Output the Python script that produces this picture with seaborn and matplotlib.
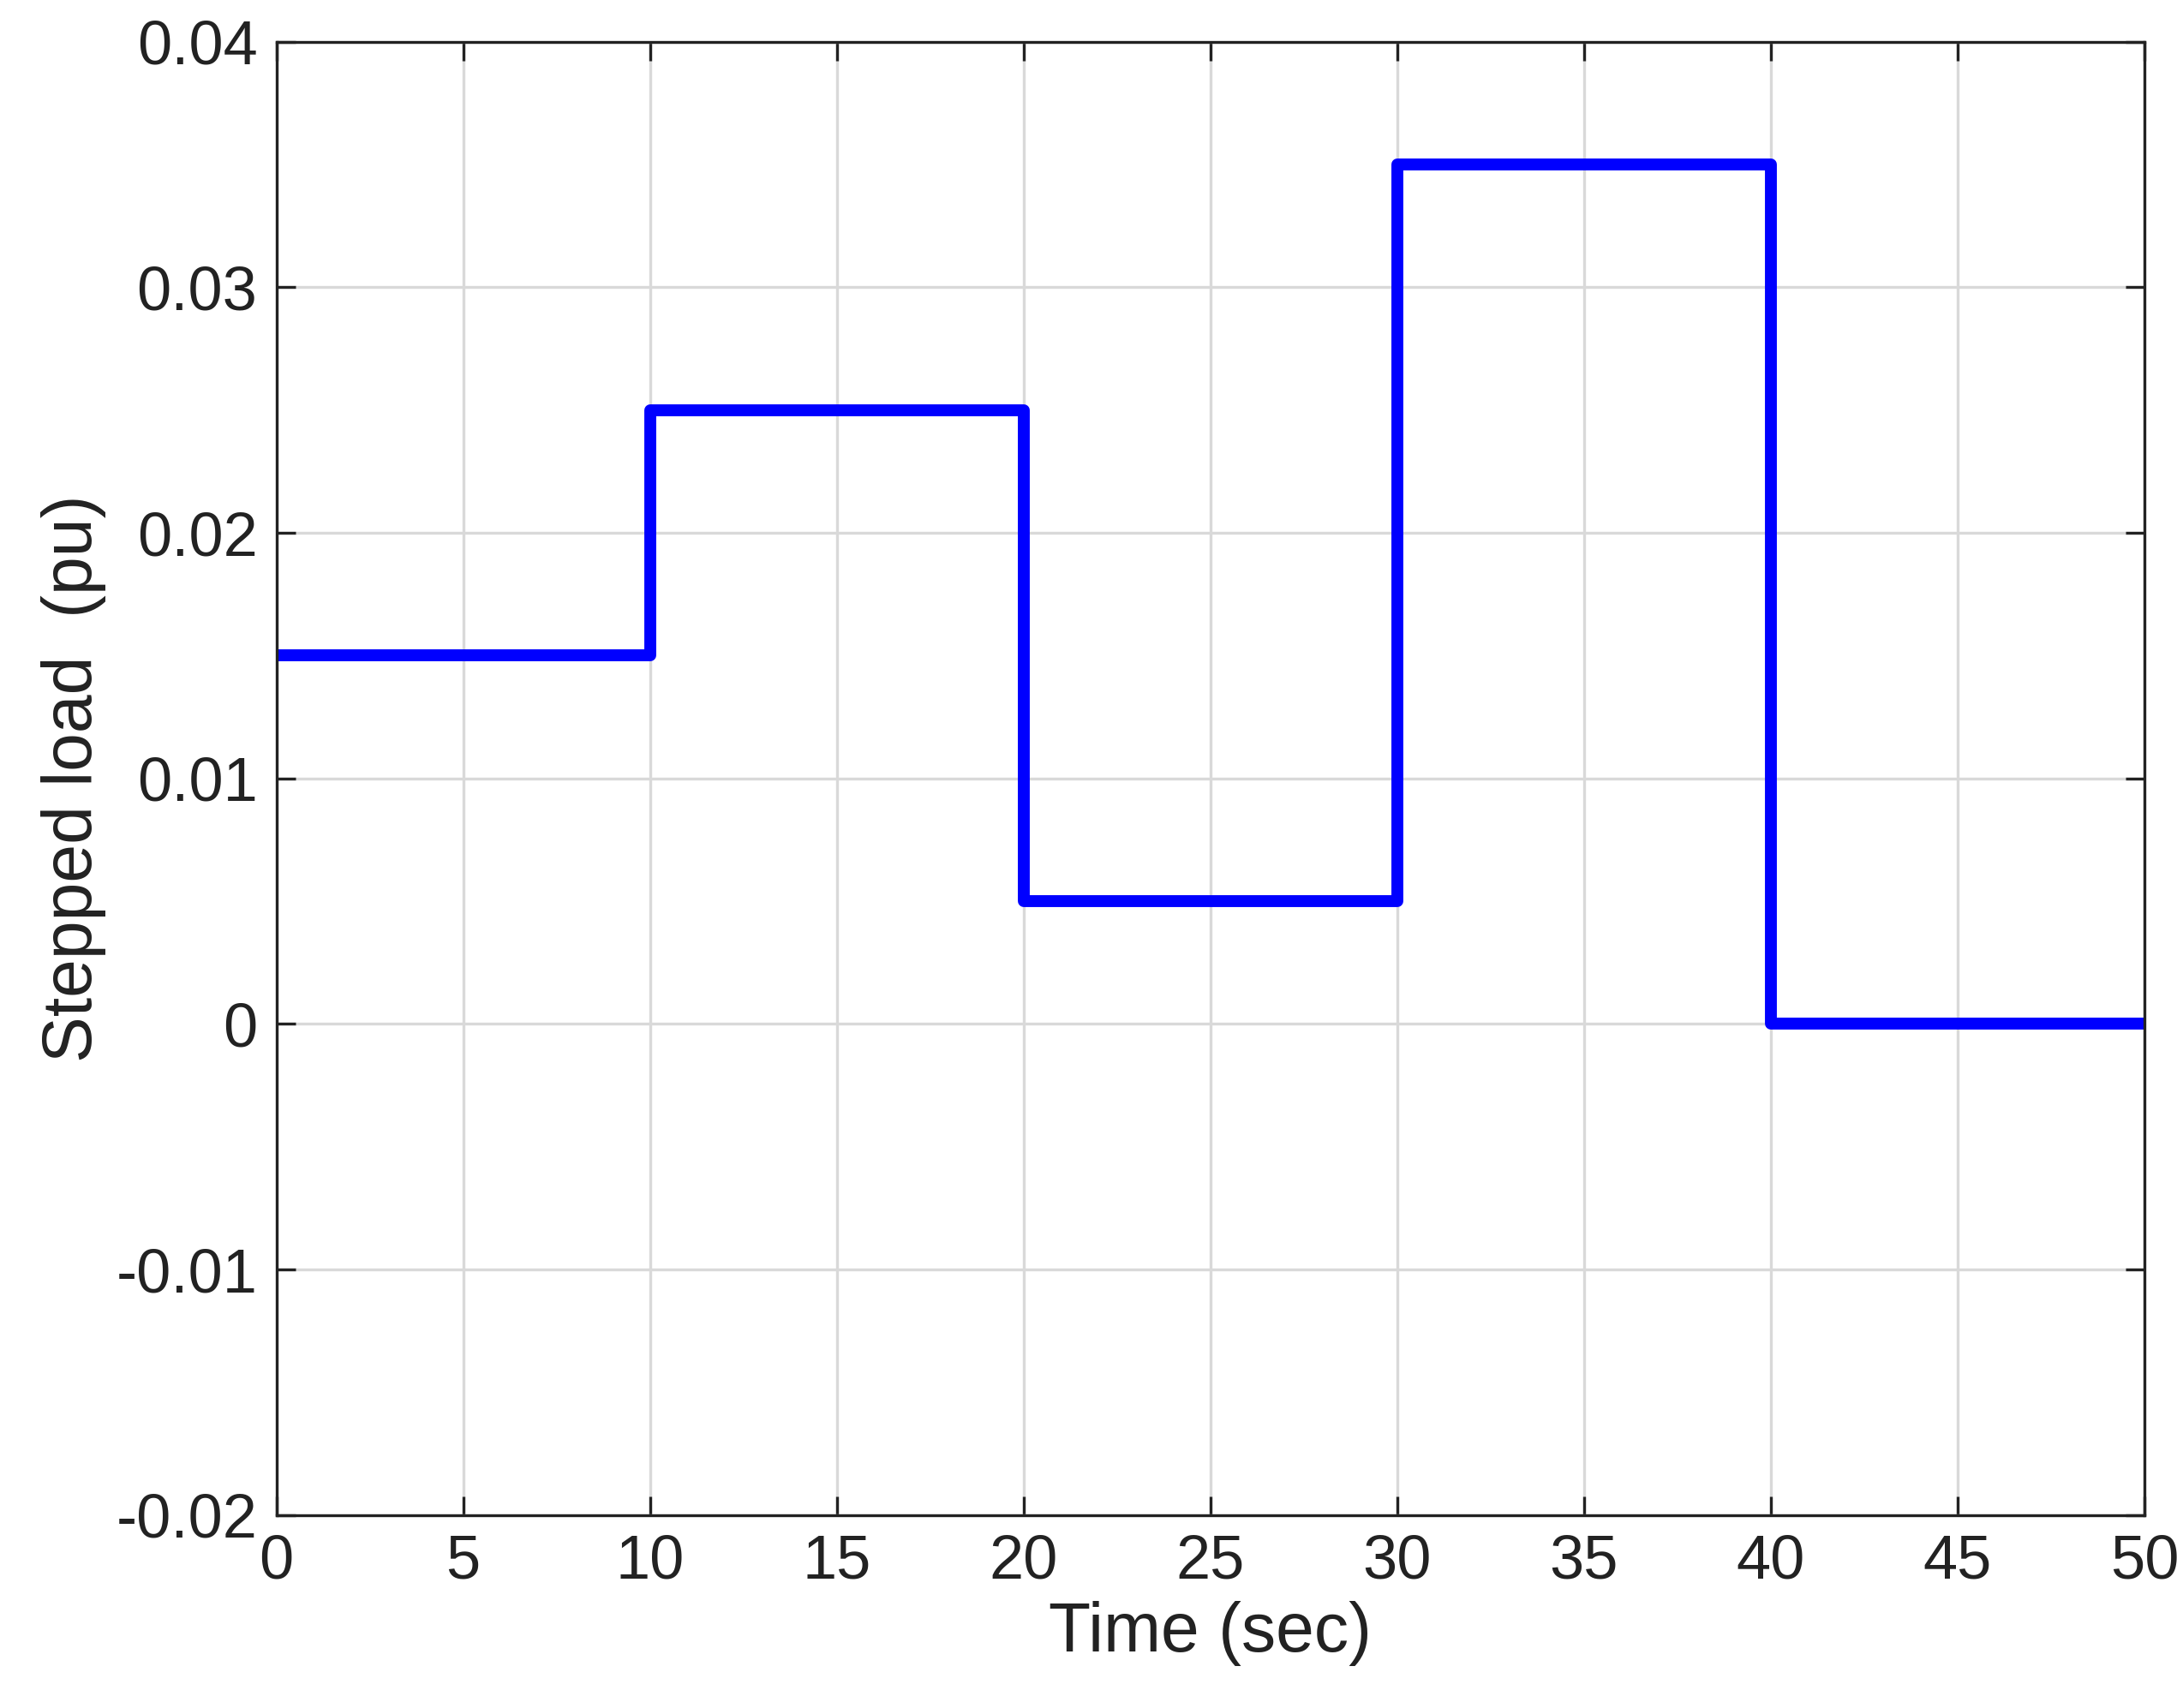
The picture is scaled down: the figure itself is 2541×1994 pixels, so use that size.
import matplotlib
matplotlib.use("Agg")
import matplotlib.pyplot as plt
import seaborn as sns
import pandas as pd

sns.set_theme(style="white")
plt.rcParams["font.family"] = ["Liberation Sans", "DejaVu Sans"]

time_s = [0, 10, 20, 30, 40, 50]
load_pu = [0.015, 0.025, 0.005, 0.035, 0.0, 0.0]
df = pd.DataFrame({"t": time_s, "load": load_pu})

fig = plt.figure(figsize=(12.705, 9.97), dpi=200)
ax = fig.add_axes([0.127, 0.113, 0.858, 0.8625])
sns.lineplot(data=df, x="t", y="load", ax=ax, color="#0000ff", linewidth=5,
             drawstyle="steps-post")

ax.set_xlim(0, 50)
ax.set_ylim(-0.02, 0.04)
ax.set_xticks(range(0, 51, 5))
ax.set_yticks([-0.02, -0.01, 0, 0.01, 0.02, 0.03, 0.04])
ax.set_yticklabels(["-0.02", "-0.01", "0", "0.01", "0.02", "0.03", "0.04"])
ax.grid(True, color="#d9d9d9", linewidth=1.2)
ax.tick_params(direction="in", length=8, width=1.2, top=True, right=True,
               left=True, bottom=True, labelsize=26, colors="#222222", pad=8)
for s in ax.spines.values():
    s.set_color("#222222")
    s.set_linewidth(1.2)
ax.set_xlabel("Time (sec)", fontsize=29, color="#222222")
ax.set_ylabel("Stepped load  (pu)", fontsize=29, color="#222222")

fig.savefig("out.png", dpi=200)
